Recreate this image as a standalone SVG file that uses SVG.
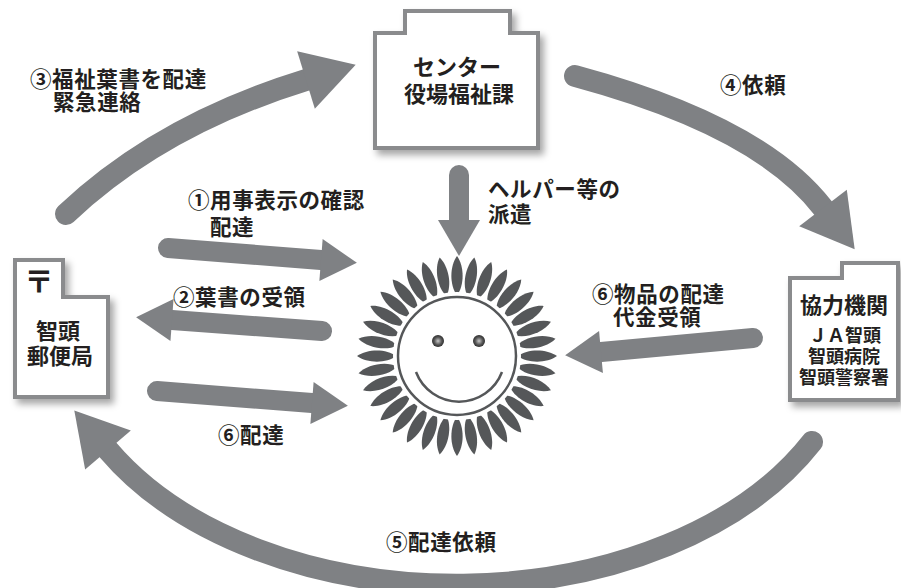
<svg xmlns="http://www.w3.org/2000/svg" width="901" height="588" viewBox="0 0 901 588">
  <style>
    .box { fill: #ffffff; stroke: #8a8b8d; stroke-width: 4; stroke-linejoin: miter; filter: url(#shadow); }
    .flow { fill: none; stroke: #7f8184; stroke-linecap: round; }
    .curve { stroke-width: 22; marker-end: url(#headL); }
    .straight { stroke-width: 20; marker-end: url(#headS); }
    text { font-family: "Noto Sans CJK JP", "Noto Sans", sans-serif; fill: #231f20; }
    .lbl { font-size: 21.5px; font-weight: 700; letter-spacing: 0.6px; }
    .node { font-size: 22px; font-weight: 700; text-anchor: middle; }
    .sub { font-size: 18px; font-weight: 700; text-anchor: middle; }
    .petal { fill: #555759; }
  </style>
  <defs>
    <filter id="shadow" x="-20%" y="-20%" width="150%" height="150%">
      <feDropShadow dx="4" dy="5" stdDeviation="3.5" flood-color="#000" flood-opacity="0.35"/>
    </filter>
    <marker id="headL" markerUnits="userSpaceOnUse" viewBox="-2 -32 58 64" markerWidth="58" markerHeight="64" refX="0" refY="0" orient="auto">
      <path d="M0,-30 L52,0 L0,30 Z" fill="#7f8184"/>
    </marker>
    <marker id="headS" markerUnits="userSpaceOnUse" viewBox="-2 -22 40 44" markerWidth="40" markerHeight="44" refX="0" refY="0" orient="auto">
      <path d="M0,-21 L36,0 L0,21 Z" fill="#7f8184"/>
    </marker>
    <radialGradient id="eye" cx="0.5" cy="0.5" r="0.5">
      <stop offset="0" stop-color="#c8c8c8"/>
      <stop offset="0.6" stop-color="#5a5a5a"/>
      <stop offset="1" stop-color="#2e2e2e"/>
    </radialGradient>
    <!-- one pointed ray of the sun, pointing up from the centre -->
    <path id="ray" d="M0,-61 C7.5,-70 7.5,-90 0,-100 C-7.5,-90 -7.5,-70 0,-61 Z"/>
  </defs>

  <!-- connectors -->
  <g id="connectors">
    <path class="flow curve" d="M66,214 Q160,125 306,80"/>
    <path class="flow curve" d="M575,76 Q760,126 823,208"/>
    <path class="flow curve" d="M812,442 A400,264 0 0 1 108,450"/>
    <path class="flow straight" d="M168,248 L321,260"/>
    <path class="flow straight" d="M322,331 L172,320"/>
    <path class="flow straight" d="M157,391 L312,403"/>
    <path class="flow straight" d="M753,338 L601,352"/>
    <path class="flow straight" d="M459,175 L459,220"/>
  </g>

  <!-- center office -->
  <g id="node-center">
    <path class="box" d="M375,33 H405 V11 H510 V33 H538 V148 H375 Z"/>
    <text class="node" x="457" y="75">センター</text>
    <text class="node" x="459" y="102">役場福祉課</text>
  </g>

  <!-- post office -->
  <g id="node-post">
    <path class="box" d="M15,260 H63 V297 H108 V397 H15 Z"/>
    <text x="39" y="292" font-size="30" font-weight="900" text-anchor="middle">〒</text>
    <text class="node" x="58" y="339">智頭</text>
    <text class="node" x="60" y="364">郵便局</text>
  </g>

  <!-- partner organisations -->
  <g id="node-partner">
    <path class="box" d="M790,278 H842 V263 H898 V400 H790 Z"/>
    <text class="node" x="844" y="313">協力機関</text>
    <text class="sub" x="845" y="342">ＪＡ智頭</text>
    <text class="sub" x="844" y="363">智頭病院</text>
    <text class="sub" x="844" y="384">智頭警察署</text>
  </g>

  <!-- resident (smiling sun) -->
  <g id="node-user" transform="translate(457,356)">
    <g class="petal">
      <use href="#ray" transform="rotate(0)"/><use href="#ray" transform="rotate(10)"/>
      <use href="#ray" transform="rotate(20)"/><use href="#ray" transform="rotate(30)"/>
      <use href="#ray" transform="rotate(40)"/><use href="#ray" transform="rotate(50)"/>
      <use href="#ray" transform="rotate(60)"/><use href="#ray" transform="rotate(70)"/>
      <use href="#ray" transform="rotate(80)"/><use href="#ray" transform="rotate(90)"/>
      <use href="#ray" transform="rotate(100)"/><use href="#ray" transform="rotate(110)"/>
      <use href="#ray" transform="rotate(120)"/><use href="#ray" transform="rotate(130)"/>
      <use href="#ray" transform="rotate(140)"/><use href="#ray" transform="rotate(150)"/>
      <use href="#ray" transform="rotate(160)"/><use href="#ray" transform="rotate(170)"/>
      <use href="#ray" transform="rotate(180)"/><use href="#ray" transform="rotate(190)"/>
      <use href="#ray" transform="rotate(200)"/><use href="#ray" transform="rotate(210)"/>
      <use href="#ray" transform="rotate(220)"/><use href="#ray" transform="rotate(230)"/>
      <use href="#ray" transform="rotate(240)"/><use href="#ray" transform="rotate(250)"/>
      <use href="#ray" transform="rotate(260)"/><use href="#ray" transform="rotate(270)"/>
      <use href="#ray" transform="rotate(280)"/><use href="#ray" transform="rotate(290)"/>
      <use href="#ray" transform="rotate(300)"/><use href="#ray" transform="rotate(310)"/>
      <use href="#ray" transform="rotate(320)"/><use href="#ray" transform="rotate(330)"/>
      <use href="#ray" transform="rotate(340)"/><use href="#ray" transform="rotate(350)"/>
    </g>
    <circle r="64" fill="#ffffff"/>
    <circle r="59" fill="#ffffff" stroke="#555759" stroke-width="2.5"/>
    <circle cx="-19" cy="-15" r="6" fill="url(#eye)"/>
    <circle cx="22" cy="-15" r="6" fill="url(#eye)"/>
    <path d="M-41,16 A46,46 0 0 0 45,16" fill="none" stroke="#555759" stroke-width="2.5"/>
  </g>

  <!-- connector labels -->
  <g id="labels">
    <text class="lbl" x="30" y="87">③福祉葉書を配達</text>
    <text class="lbl" x="53" y="110">緊急連絡</text>
    <text class="lbl" x="720" y="93">④依頼</text>
    <text class="lbl" x="188" y="208">①用事表示の確認</text>
    <text class="lbl" x="210" y="235">配達</text>
    <text class="lbl" x="488" y="197">ヘルパー等の</text>
    <text class="lbl" x="488" y="222">派遣</text>
    <text class="lbl" x="173" y="305">②葉書の受領</text>
    <text class="lbl" x="592" y="302">⑥物品の配達</text>
    <text class="lbl" x="613" y="325">代金受領</text>
    <text class="lbl" x="218" y="443">⑥配達</text>
    <text class="lbl" x="386" y="550">⑤配達依頼</text>
  </g>
</svg>
